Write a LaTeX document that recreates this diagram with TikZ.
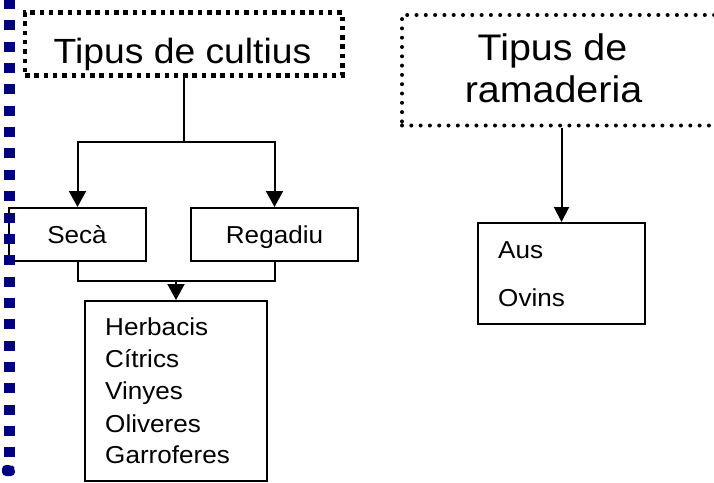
\documentclass[tikz,border=0pt]{standalone}
\usepackage{fontspec}
\setmainfont[FakeStretch=1.065]{Liberation Sans}
\usetikzlibrary{arrows.meta}
\definecolor{navyc}{RGB}{0,0,128}
\begin{document}
\begin{tikzpicture}[x=1pt,y=-1pt,
  box/.style={draw=black, line width=2pt, inner sep=0pt, rectangle},
  sqdot/.style={draw=black, line width=4.5pt, dash pattern=on 4.5pt off 4.8pt, inner sep=0pt, rectangle},
  rddot/.style={draw=black, line width=4pt, line cap=round, dash pattern=on 0pt off 9.3pt, inner sep=0pt, rectangle},
  conn/.style={line width=2pt},
  arr/.style={line width=2pt, -{Triangle[width=17pt,length=16pt]}},
  small/.style={inner sep=0pt, font=\fontsize{24.5}{29}\selectfont},
  lbl/.style={small, anchor=base west},
  big/.style={inner sep=0pt, anchor=base, font=\fontsize{35}{40}\selectfont},
  huge/.style={inner sep=0pt, anchor=base, font=\fontsize{37}{42}\selectfont}]
\useasboundingbox (0,0) rectangle (714,482);
\clip (0,0) rectangle (714,482);

% boxes
\node[sqdot, minimum width=317.5pt, minimum height=63pt] (cult) at (183.75,44) {};
\node[big] (cultt) at (182.5,63) {Tipus de cultius};

\node[rddot, minimum width=324pt, minimum height=110.5pt] (ram) at (564,70.25) {};
\node[huge] (ramt1) at (552.5,60) {Tipus de};
\node[huge] (ramt2) at (553.5,102) {ramaderia};

\node[box, minimum width=137pt, minimum height=53pt] (seca) at (77.5,234.5) {};
\node[small, anchor=base] (secat) at (77,243) {Secà};
\node[box, minimum width=167pt, minimum height=53pt] (reg) at (274.5,234.5) {};
\node[small, anchor=base] (regt) at (274.5,243) {Regadiu};

\node[box, minimum width=182pt, minimum height=180pt] (herb) at (176,391) {};
\node[lbl] (h1) at (105,335) {Herbacis};
\node[lbl] (h2) at (105,367) {Cítrics};
\node[lbl] (h3) at (105,399) {Vinyes};
\node[lbl] (h4) at (105,432) {Oliveres};
\node[lbl] (h5) at (105,463) {Garroferes};

\node[box, minimum width=167pt, minimum height=101pt] (aus) at (561.5,273.5) {};
\node[lbl] (a1) at (498,258) {Aus};
\node[lbl] (a2) at (498,306) {Ovins};

% connectors
\coordinate (split) at (183.75,142);
\draw[conn] (cult.south) -- (split);
\draw[arr] (split) -| (seca.north);
\draw[arr] (split) -| (reg.north);

\coordinate (merge) at (176,281);
\draw[conn] (seca.south) |- (merge) -| (reg.south);
\draw[arr] (merge) -- (herb.north);

\draw[line width=2pt, -{Triangle[width=15pt,length=15pt]}] (aus.north |- ram.south) -- (aus.north);

% left blue dotted border
\draw[navyc, line width=11pt, dash pattern=on 10pt off 11.35pt] (9.5,-1) -- (9.5,458);
\fill[navyc, rounded corners=4pt] (2,465) -- (12,465) -- (15,468) -- (15,476) -- (2,476) -- cycle;
\end{tikzpicture}
\end{document}
